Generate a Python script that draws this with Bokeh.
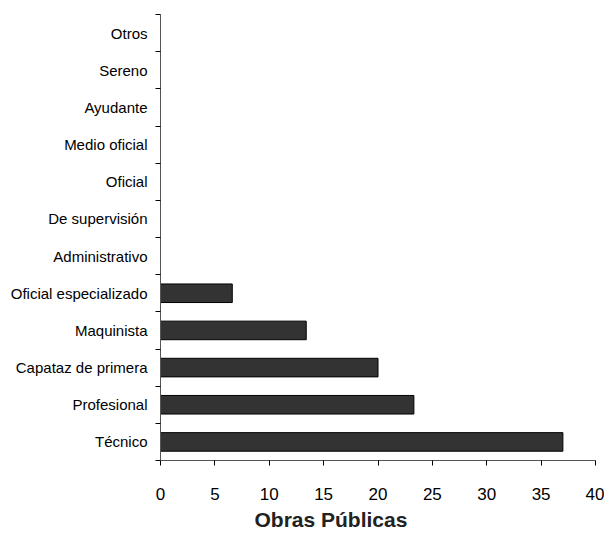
from bokeh.plotting import figure
from bokeh.models import FixedTicker, Range1d, Title
from bokeh.embed import file_html
from bokeh.resources import INLINE

categories = ["Técnico", "Profesional", "Capataz de primera", "Maquinista",
              "Oficial especializado", "Administrativo", "De supervisión",
              "Oficial", "Medio oficial", "Ayudante", "Sereno", "Otros"]
values = [37.0, 23.3, 20.0, 13.4, 6.6, 0, 0, 0, 0, 0, 0, 0]
x_ticks = [0, 5, 10, 15, 20, 25, 30, 35, 40]
chart_title = "Obras Públicas"

n = len(categories)
centers = [i + 0.5 for i in range(n)]

p = figure(width=604, height=533, output_backend="svg", toolbar_location=None,
           x_range=Range1d(0, 40), y_range=Range1d(0, n),
           min_border_left=160, min_border_right=9, min_border_top=14, min_border_bottom=72)
p.outline_line_color = None
p.xgrid.visible = False
p.ygrid.visible = False

p.hbar(y=centers, right=values, left=0, height=0.5,
       fill_color="#333333", line_color="#000000", line_width=1)

font = "Liberation Sans"
ya = p.yaxis[0]
ya.ticker = FixedTicker(ticks=centers, minor_ticks=list(range(n + 1)))
ya.major_label_overrides = {c: lab for c, lab in zip(centers, categories)}
ya.major_tick_out = 0
ya.major_tick_in = 0
ya.minor_tick_out = 5
ya.minor_tick_in = 0
ya.minor_tick_line_color = "#000000"
ya.axis_line_color = "#555555"
ya.major_label_text_font = font
ya.major_label_text_font_size = "15px"
ya.major_label_text_color = "#000000"
ya.major_label_standoff = 8

xa = p.xaxis[0]
xa.ticker = FixedTicker(ticks=x_ticks, minor_ticks=[])
xa.major_tick_out = 5
xa.major_tick_in = 0
xa.major_tick_line_color = "#000000"
xa.axis_line_color = "#555555"
xa.major_label_text_font = font
xa.major_label_text_font_size = "17px"
xa.major_label_text_color = "#000000"
xa.major_label_standoff = 22

t = Title(text=chart_title, align="left", offset=94, text_font=font,
          text_font_size="21px", text_font_style="bold", text_color="#222222",
          standoff=6)
p.add_layout(t, "below")

open("out.html", "w").write(file_html(p, INLINE))
